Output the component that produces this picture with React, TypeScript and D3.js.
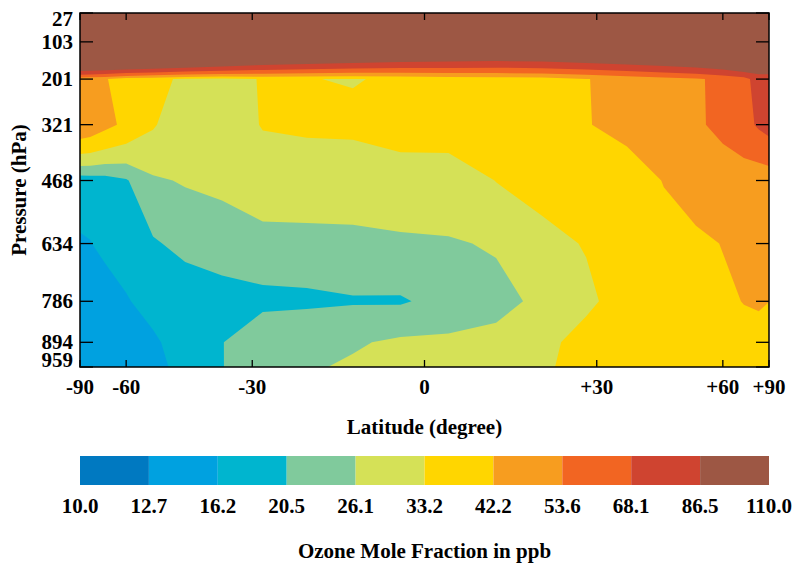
import React from 'react';
import * as d3 from 'd3';

// Grid: latitude columns (degrees) and pressure levels (hPa)
const latitudes = [-90, -76, -68, -60, -52, -44, -36, -28, -20, -12, -4, 4, 12, 20, 28, 36, 44, 52, 60, 68, 76, 90];
const pressures = [27, 103, 201, 321, 468, 634, 786, 894, 959];

// Zonal-mean ozone mole fraction (ppb), one array per pressure level
const ozone27 = [352, 350, 348, 345, 340, 334, 326, 318, 310, 304, 300, 298, 300, 304, 310, 318, 326, 334, 340, 345, 348, 350];
const ozone103 = [233.5, 230, 225.8, 228, 220, 210, 195, 174, 164, 157, 148, 143, 139, 140.6, 145, 149, 156, 163, 172, 190, 150, 130];
const ozone201 = [46, 45, 43, 37.2, 35, 32.1, 31, 33.6, 33.4, 32.8, 34.25, 36, 37, 38, 41.8, 46, 49, 52, 56.8, 62, 76.9, 80];
const ozone321 = [50.6, 49.1, 44.9, 40.1, 34, 27.5, 29, 33.63, 34.5, 34.8, 38, 39, 40, 41, 41.5, 46.4, 49, 52, 56.3, 63, 70.2, 74.0];
const ozone468 = [17.6, 17.8, 18.2, 20.0, 25.3, 26.6, 27.5, 29.5, 29.0, 28.9, 28.3, 27.6, 33.4, 38, 40, 35.6, 42.7, 46, 48.45, 47.3, 45.8, 46.4];
const ozone634 = [15.9, 16.1, 17.0, 18.5, 19.9, 22, 23.1, 24.27, 24.7, 24.9, 25.6, 25.9, 26.3, 29.5, 34, 37, 38, 40.7, 42.44, 45, 46, 46];
const ozone786 = [15.0, 15.2, 14.65, 15.8, 18, 17.3, 18.4, 19.03, 19.25, 20.0, 19.9, 22.5, 25.5, 26.53, 30.7, 38.7, 39, 40, 41.0, 42.4, 44, 42.3];
const ozone894 = [14.6, 14.8, 14.5, 15, 15.4, 18.6, 20.3, 24.7, 26.0, 25.5, 27.0, 27.1, 26.65, 30, 37.5, 40, 40, 40.5, 40.5, 40, 36.5, 36.4];
const ozone959 = [14.5, 14.6, 14.5, 14.8, 15.0, 17.5, 20.3, 24.5, 25.5, 26.8, 28.5, 29, 28, 31, 38.6, 40, 40, 40.5, 40.5, 40, 38, 37];

// Contour levels and fill colours
const thresholds = [10, 12.7, 16.2, 20.5, 26.1, 33.2, 42.2, 53.6, 68.1, 86.5];
const bandColors = ['#0079C1', '#00A1E0', '#00B5CF', '#80CA9C', '#D5E157', '#FFD600', '#F79D1F', '#F26522', '#CF4430', '#9D5744'];
const legendLabels = ['10.0', '12.7', '16.2', '20.5', '26.1', '33.2', '42.2', '53.6', '68.1', '86.5', '110.0'];

// Axis ticks
const latTicks = [-90, -60, -30, 0, 30, 60, 90];
const latTickLabels = ['-90', '-60', '-30', '0', '+30', '+60', '+90'];
const pressureTicks = [27, 103, 201, 321, 468, 634, 786, 894, 959];

const W = 797;
const H = 565;
const M = { left: 80, right: 769, top: 13, bottom: 367 };
const FONT = "'Liberation Serif', 'Times New Roman', Times, serif";

// Latitude axis is linear in sin(latitude)
const sinScale = d3.scaleLinear().domain([-1, 1]).range([M.left, M.right]);
const xLat = (lat: number) => sinScale(Math.sin((lat * Math.PI) / 180));
const yP = d3.scaleLinear().domain([27, 959]).range([M.top, M.bottom]);

// Grid index -> pixel position (piecewise linear between grid nodes)
const colToX = d3
  .scaleLinear()
  .domain(d3.range(latitudes.length))
  .range(latitudes.map(xLat))
  .clamp(true);
const rowToY = d3
  .scaleLinear()
  .domain(d3.range(pressures.length))
  .range(pressures.map((p) => yP(p)))
  .clamp(true);

const gridTransform = d3.geoTransform({
  point(this: any, gx: number, gy: number) {
    this.stream.point(colToX(gx - 0.5), rowToY(gy - 0.5));
  },
});
const gridPath = d3.geoPath(gridTransform);

const legendScale = d3.scaleLinear().domain([0, bandColors.length]).range([M.left, M.right]);

export default function App() {
  const rows = [ozone27, ozone103, ozone201, ozone321, ozone468, ozone634, ozone786, ozone894, ozone959];
  const values = rows.flat();
  const bands = d3
    .contours()
    .size([latitudes.length, pressures.length])
    .thresholds(thresholds)(values);

  const cx = (M.left + M.right) / 2;

  return (
    <svg
      width={W}
      height={H}
      viewBox={`0 0 ${W} ${H}`}
      style={{ position: 'absolute', left: 0, top: 0, background: '#fff' }}
      fontFamily={FONT}
      fontWeight="bold"
    >
      <rect x={0} y={0} width={W} height={H} fill="#fff" />

      {/* filled contour bands */}
      {bands.map((b, i) => (
        <path key={i} d={gridPath(b as any) || ''} fill={bandColors[i]} />
      ))}

      {/* frame */}
      <rect
        x={M.left}
        y={M.top}
        width={M.right - M.left}
        height={M.bottom - M.top}
        fill="none"
        stroke="#000"
        strokeWidth={1.5}
      />

      {/* latitude ticks, bottom and top, pointing inward */}
      {latTicks.map((t) => (
        <g key={'xt' + t} stroke="#000" strokeWidth={1.3}>
          <line x1={xLat(t)} x2={xLat(t)} y1={M.bottom} y2={M.bottom - 7} />
          <line x1={xLat(t)} x2={xLat(t)} y1={M.top} y2={M.top + 7} />
        </g>
      ))}
      {latTicks.map((t, i) => (
        <text key={'xl' + t} x={xLat(t)} y={394} textAnchor="middle" fontSize={21} fill="#000">
          {latTickLabels[i]}
        </text>
      ))}

      {/* pressure ticks, left and right, pointing inward */}
      {pressureTicks.map((p) => (
        <g key={'yt' + p} stroke="#000" strokeWidth={1.3}>
          <line x1={M.left} x2={M.left + 13} y1={yP(p)} y2={yP(p)} />
          <line x1={M.right} x2={M.right - 13} y1={yP(p)} y2={yP(p)} />
        </g>
      ))}
      {pressureTicks.map((p) => {
        const base = Math.max(M.top + 13, Math.min(M.bottom, yP(p) + 7));
        return (
          <text key={'yl' + p} x={73} y={base} textAnchor="end" fontSize={21} fill="#000">
            {p}
          </text>
        );
      })}

      {/* axis titles */}
      <text x={cx} y={434} textAnchor="middle" fontSize={21} fill="#000">
        Latitude (degree)
      </text>
      <text
        transform={`translate(26, ${(M.top + M.bottom) / 2}) rotate(-90)`}
        textAnchor="middle"
        fontSize={21}
        fill="#000"
      >
        Pressure (hPa)
      </text>

      {/* colour bar */}
      {bandColors.map((c, i) => (
        <rect
          key={'lg' + i}
          x={legendScale(i)}
          y={456}
          width={legendScale(i + 1) - legendScale(i)}
          height={29}
          fill={c}
        />
      ))}
      {legendLabels.map((l, i) => (
        <text key={'ll' + i} x={legendScale(i)} y={513} textAnchor="middle" fontSize={21} fill="#000">
          {l}
        </text>
      ))}
      <text x={cx} y={558} textAnchor="middle" fontSize={21} fill="#000">
        Ozone Mole Fraction in ppb
      </text>
    </svg>
  );
}
